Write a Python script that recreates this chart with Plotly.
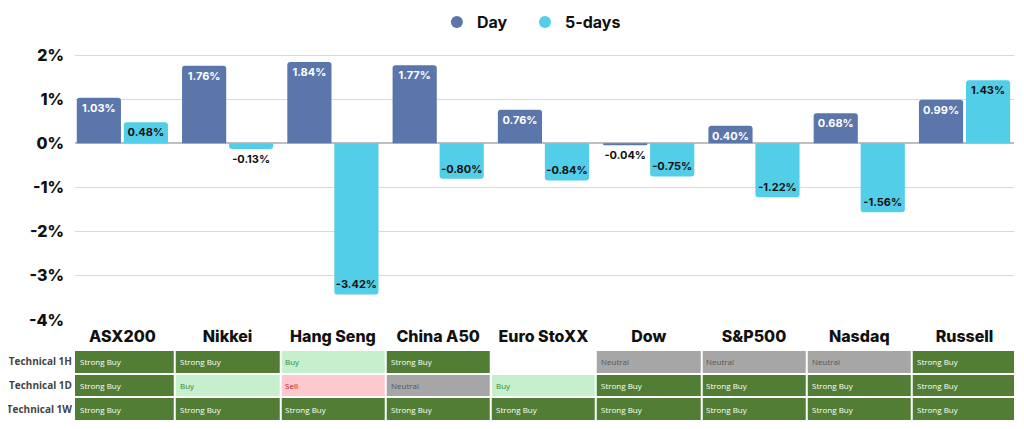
import plotly.graph_objects as go

categories = ["ASX200", "Nikkei", "Hang Seng", "China A50", "Euro StoXX", "Dow", "S&P500", "Nasdaq", "Russell"]
day = [1.03, 1.76, 1.84, 1.77, 0.76, -0.04, 0.40, 0.68, 0.99]
five_days = [0.48, -0.13, -3.42, -0.80, -0.84, -0.75, -1.22, -1.56, 1.43]

row_labels = ["Technical 1H", "Technical 1D", "Technical 1W"]
tech_1h = ["Strong Buy", "Strong Buy", "Buy", "Strong Buy", "", "Neutral", "Neutral", "Neutral", "Strong Buy"]
tech_1d = ["Strong Buy", "Buy", "Sell", "Neutral", "Buy", "Strong Buy", "Strong Buy", "Strong Buy", "Strong Buy"]
tech_1w = ["Strong Buy"] * 9
tech_rows = [tech_1h, tech_1d, tech_1w]

y_ticks = [-4, -3, -2, -1, 0, 1, 2]

DAY_C = "#5A76AB"
FIVE_C = "#52CEE8"
status_code = {"Strong Buy": 0, "Buy": 1, "Sell": 2, "Neutral": 3, "": 4}
status_text_color = {"Strong Buy": "#ffffff", "Buy": "#2E8B3A", "Sell": "#C0141E", "Neutral": "#555555", "": "#000000"}

TITLE_FONT = "Inter"

fig = go.Figure()

day_pos = ["inside" if abs(v) >= 0.3 else "outside" for v in day]
day_col = ["#ffffff" if p == "inside" else "#111111" for p in day_pos]
five_pos = ["inside" if abs(v) >= 0.3 else "outside" for v in five_days]

fig.add_trace(go.Bar(
    x=categories, y=day, name="Day", marker=dict(color=DAY_C, line=dict(width=0)),
    text=[f"{v:.2f}%" for v in day], textposition=day_pos, insidetextanchor="end",
    textfont=dict(color=day_col, family=TITLE_FONT, size=11, weight=700),
    textangle=0, cliponaxis=False, showlegend=False, xaxis="x", yaxis="y",
))
fig.add_trace(go.Bar(
    x=categories, y=five_days, name="5-days", marker=dict(color=FIVE_C, line=dict(width=0)),
    text=[f"{v:.2f}%" for v in five_days], textposition=five_pos, insidetextanchor="end",
    textfont=dict(color="#111111", family=TITLE_FONT, size=11, weight=700),
    textangle=0, cliponaxis=False, showlegend=False, xaxis="x", yaxis="y",
))

# legend markers (circles), one legend per series
for nm, c, lg in [("Day", DAY_C, "legend"), ("5-days", FIVE_C, "legend2")]:
    fig.add_trace(go.Scatter(x=[None], y=[None], mode="markers", name=nm, legend=lg,
                             marker=dict(color=c, size=16, symbol="circle"),
                             xaxis="x", yaxis="y"))

# technical table as heatmap
z = [[status_code[s] for s in row] for row in tech_rows]
fig.add_trace(go.Heatmap(
    x=categories, y=row_labels, z=z, zmin=0, zmax=4,
    colorscale=[[0, "#527D34"], [0.25, "#C6EFCE"], [0.5, "#FFC7CE"], [0.75, "#A6A6A6"], [1, "#FFFFFF"]],
    showscale=False, xgap=2, ygap=2, hoverinfo="skip", xaxis="x", yaxis="y2",
))

annotations = []
for r, row in enumerate(tech_rows):
    for i, s in enumerate(row):
        if not s:
            continue
        annotations.append(dict(
            x=max(i - 0.5, -0.45), y=row_labels[r], xref="x", yref="y2", text=s, showarrow=False,
            xanchor="left", xshift=3, font=dict(family="Open Sans", size=8, color=status_text_color[s]),
        ))

legend_style = dict(orientation="h", xanchor="left", y=0.966, yanchor="middle", yref="container",
                    font=dict(family=TITLE_FONT, size=16, color="#111111", weight=700),
                    itemsizing="constant", bgcolor="rgba(0,0,0,0)")

fig.update_layout(
    width=1008, height=413,
    margin=dict(l=67, r=2, t=30, b=0, autoexpand=False),
    paper_bgcolor="white", plot_bgcolor="white",
    barmode="group", bargap=0.107, bargroupgap=0.06, barcornerradius=3,
    uniformtext=dict(minsize=11, mode="show"),
    legend=dict(x=0.3854, **legend_style),
    legend2=dict(x=0.4792, **legend_style),
    xaxis=dict(domain=[0, 1], anchor="y", range=[-0.45, 8.47], showgrid=False, zeroline=False,
               showline=False,
               tickfont=dict(family=TITLE_FONT, size=16, color="#111111", weight=800), ticks="",
               ticklabelstandoff=4),
    yaxis=dict(domain=[0.2614, 0.9786], range=[-4.02, 2.2], tickvals=y_ticks,
               ticktext=[f"{v}%" for v in y_ticks], showgrid=True, gridcolor="#D9D9D9", gridwidth=1,
               zeroline=True, zerolinecolor="#BFBFBF", zerolinewidth=1.5,
               tickfont=dict(family=TITLE_FONT, size=16, color="#111111", weight=800), ticks="",
               ticklabelstandoff=10, automargin=False),
    yaxis2=dict(domain=[0.0, 0.1854], anchor="x", autorange="reversed", showgrid=False, zeroline=False,
                tickfont=dict(family="Open Sans", size=10, color="#444444", weight=700), ticks="",
                ticklabelstandoff=2, automargin=False),
    annotations=annotations,
)

fig.write_html("out.html")
